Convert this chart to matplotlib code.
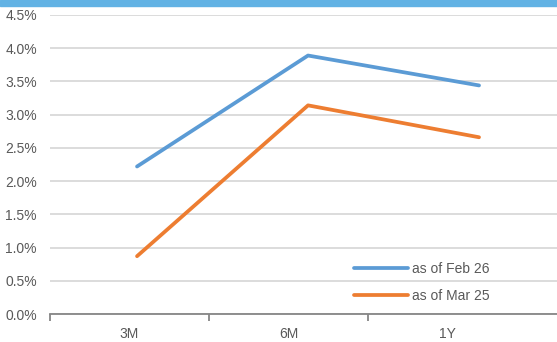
import matplotlib
matplotlib.use("Agg")
import matplotlib.pyplot as plt
from matplotlib.ticker import FuncFormatter, FixedLocator, NullFormatter

# tenors and yield expectations (%)
tenors = ["3M", "6M", "1Y"]
feb26 = [2.22, 3.89, 3.44]
mar25 = [0.87, 3.14, 2.66]
yticks = [0.0, 0.5, 1.0, 1.5, 2.0, 2.5, 3.0, 3.5, 4.0, 4.5]

plt.rcParams['font.family'] = ['Liberation Sans Narrow', 'Liberation Sans', 'DejaVu Sans']

W, H = 557, 342
fig = plt.figure(figsize=(W / 100, H / 100), dpi=100)

# header band
fig.patches.append(plt.Rectangle((0, 1 - 6 / H), 1, 6 / H, transform=fig.transFigure,
                                 color="#62b2e4", zorder=0))

left, right, top, bottom = 50, 557, 15, 314
ax = fig.add_axes([left / W, 1 - bottom / H, (right - left) / W, (bottom - top) / H])

x = list(range(len(tenors)))
ax.plot(x, feb26, color="#5b9bd5", lw=2.7, solid_capstyle="round", label="as of Feb 26")
ax.plot(x, mar25, color="#ed7d31", lw=2.7, solid_capstyle="round", label="as of Mar 25")

ax.set_xlim(-0.509, 2.456)
ax.set_ylim(0, 4.5)
ax.set_yticks(yticks)
ax.yaxis.set_major_formatter(FuncFormatter(lambda v, p: f"{v:.1f}%"))
ax.tick_params(axis="y", length=0, pad=9.5, labelsize=10, labelcolor="#595959")
ax.set_xticks([])
ax.grid(axis="y", color="#d9d9d9", lw=1.3)
ax.set_axisbelow(True)
for s in ["top", "right", "left"]:
    ax.spines[s].set_visible(False)
ax.spines["bottom"].set_color("#868686")
ax.spines["bottom"].set_linewidth(1.3)

# category axis
ax2 = ax.twiny()
ax2.set_xlim(0, (right - left) / 159)
ax2.xaxis.set_ticks_position("bottom")
ax2.xaxis.set_major_locator(FixedLocator([0, 1, 2]))
ax2.xaxis.set_major_formatter(NullFormatter())
ax2.xaxis.set_minor_locator(FixedLocator([0.5, 1.5, 2.5]))
ax2.set_xticklabels(tenors, minor=True)
ax2.tick_params(axis="x", which="major", length=5, width=1.3, color="#868686")
ax2.tick_params(axis="x", which="minor", length=0, pad=9, labelsize=10, labelcolor="#595959")
for s in ax2.spines.values():
    s.set_visible(False)

ax.legend(loc="upper left", bbox_to_anchor=(297 / (right - left), (bottom - 255) / (bottom - top)),
          frameon=False, handlelength=3.9, handletextpad=0.3, labelspacing=0.95,
          fontsize=10, labelcolor="#595959", borderpad=0)

fig.savefig("out.png", dpi=100)
